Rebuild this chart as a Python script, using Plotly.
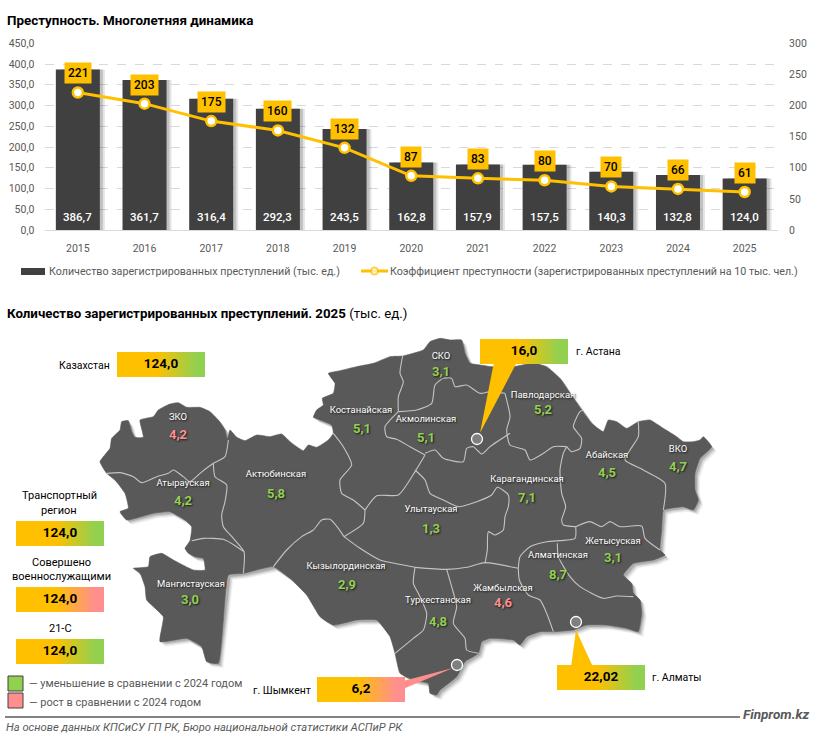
import plotly.graph_objects as go

# ---------- data ----------
years = ["2015","2016","2017","2018","2019","2020","2021","2022","2023","2024","2025"]
crimes = [386.7,361.7,316.4,292.3,243.5,162.8,157.9,157.5,140.3,132.8,124.0]
rate = [221,203,175,160,132,87,83,80,70,66,61]
series_names = ["Количество зарегистрированных преступлений (тыс. ед.)",
                "Коэффициент преступности (зарегистрированных преступлений на 10 тыс. чел.)"]
region_names = ["ЗКО","Атырауская","Актюбинская","Мангистауская","Костанайская","Акмолинская","СКО",
                "Павлодарская","Абайская","ВКО","Карагандинская","Улытауская","Кызылординская",
                "Туркестанская","Жамбылская","Алматинская","Жетысуская"]
region_values = ["4,2","4,2","5,8","3,0","5,1","5,1","3,1","5,2","4,5","4,7","7,1","1,3","2,9","4,8","4,6","8,7","3,1"]
region_up = [1,0,0,0,0,0,0,0,0,0,0,0,0,0,1,0,0]

FONT = "Roboto"
DARK = "#404040"; YEL = "#FFC000"; GRN = "#92D050"; PNK = "#FF8F8F"; GREY = "#595959"

# label anchors in page pixels
name_xy = [(178,418),(183,484),(276,475),(191,585),(361,411),(426,420),(441,357),(543,396),(607,456),
           (678,450),(527,480),(431,510),(346,567),(438,601),(503,589),(558,556),(613,542)]
val_xy = [(178,436),(183,502),(276,495),(190,601),(362,430),(426,439),(441,373),(543,411),(607,474),
          (678,468),(527,499),(431,530),(347,586),(438,623),(503,604),(558,576),(613,559)]

def z2(p): return [(90+x/3, 330+y/3) for x,y in p]
def z3(p): return [(400+x/3, 330+y/3) for x,y in p]

outline = z2([(30,395),(60,355),(65,325),(90,300),(95,275),(115,272),(125,305),(135,322),(160,322),(150,270),(190,260),(205,240),(240,222),(265,218),(290,232),(330,232),(360,245),(385,270),(405,300),(412,328),(420,300),(440,322),(465,332),(500,315),(540,320),(575,312),(600,335),(640,362),(655,345),(680,352),(715,330),(730,310),(725,285),(690,270),(670,262),(680,240),(700,225),(697,205),(730,190),(735,160),(715,130),(750,122),(800,110),(850,100),(900,80),(938,78),(1000,60),(1020,35),(1050,25)]) + \
  z3([(150,30),(185,30),(195,70),(210,100),(240,105),(275,110),(340,110),(400,100),(440,110),(480,145),(510,190),(545,240),(575,280),(610,305),(625,270),(650,275),(680,295),(715,275),(750,270),(790,295),(830,320),(850,335),(880,335),(900,330),(910,320),(935,350),(900,385),(885,430),(885,480),(895,510),(880,540),(850,530),(810,535),(790,540),(785,600),(780,660),(795,675),(760,690),(700,700),(670,735),(695,760),(700,790),(720,810),(725,850),(715,905),(680,895),(620,885),(560,885),(520,900),(460,905),(420,905),(380,920),(360,945),(340,930),(270,925),(245,935),(235,970),(195,995),(170,1040),(120,1080),(110,1095),(90,1090),(85,1060),(40,1050),(0,1030)]) + \
  z2([(915,970),(900,920),(860,870),(800,870),(730,885),(690,860),(650,795),(600,745),(550,710),(460,730),(415,735),(400,870),(385,1000),(350,995),(335,950),(290,925),(210,935),(220,860),(170,810),(165,770),(150,730),(130,715),(175,710),(180,680),(215,670),(250,690),(310,720),(345,720),(340,685),(315,680),(295,670),(285,655),(300,632),(305,590),(285,570),(240,545),(190,550),(110,570),(90,545),(115,535),(105,490),(75,450),(50,430),(30,395)])

borders = [
 z2([(50,430),(90,428),(130,440),(155,458),(200,440),(235,430),(250,420),(280,440),(300,455),(330,430),(370,400),(405,380),(415,330)]),
 z2([(370,400),(375,440),(410,465),(405,515),(395,555),(400,590),(430,625),(462,665),(460,730)]),
 z2([(305,632),(340,625),(400,628),(440,650),(462,665)]),
 z2([(550,710),(590,660),(635,620),(670,600),(695,570),(720,568),(745,595),(762,620)]),
 z2([(730,310),(760,350),(785,405),(750,450),(755,490),(790,510),(825,540)]),
 z2([(825,540),(820,580),(762,620)]),
 z2([(825,540),(860,497),(925,495),(975,425),(1005,375)]),
 z2([(1005,375),(960,350),(920,328),(890,320),(885,290),(925,245)]),
 z2([(938,78),(930,130),(940,155),(925,200),(925,245)]),
 z3([(-5,245),(50,240),(95,220),(105,165),(130,145),(155,145),(165,170),(200,165),(240,190),(270,185),(315,190)]),
 z3([(315,190),(330,260),(320,300),(330,345),(375,360),(390,390),(430,370),(460,350),(500,350)]),
 z3([(330,310),(270,350),(245,372),(220,350),(200,355),(190,395),(130,385),(105,360),(75,370)]),
 z3([(45,420),(75,450),(90,490),(130,510),(175,530),(230,515),(275,495),(292,472),(325,495),(325,530),(315,560),(310,600),(285,615),(265,605),(262,660),(255,700)]),
 z2([(762,620),(810,655),(870,690),(940,705),(975,712)]),
 z3([(45,712),(140,718),(200,712),(255,698),(355,715)]),
 z3([(45,712),(40,760),(55,790),(80,850),(70,900),(40,925),(-15,970)]),
 z3([(140,718),(155,770),(170,830),(160,880),(195,925),(200,960),(235,970)]),
 z3([(355,715),(360,680),(390,650),(440,635),(525,625),(527,590)]),
 z3([(527,590),(490,585),(485,570),(497,530),(485,490),(480,420),(490,370),(500,350)]),
 z3([(500,350),(515,365),(540,355),(545,325),(520,290),(540,245),(550,240)]),
 z3([(527,590),(570,575),(605,590),(630,575),(660,590),(725,588),(735,625),(780,660)]),
 z3([(715,275),(715,320),(690,360),(675,390),(730,420),(795,460),(790,540)]),
 z3([(472,640),(475,680),(510,740),(540,770),(610,805),(650,798),(700,800)]),
 z3([(355,715),(358,750),(385,795),(420,810),(440,850),(460,905)]),
]

W, H = 815, 741
fig = go.Figure()

# ---------- top chart ----------
for dx, col in [(0.075, "rgba(0,0,0,0.10)"), (0.045, "rgba(0,0,0,0.16)")]:
    fig.add_trace(go.Bar(x=years, y=crimes, width=0.66, offset=-0.33+dx, marker_color=col,
                         marker_line_width=0, showlegend=False, hoverinfo="skip"))
fig.add_trace(go.Bar(x=years, y=crimes, name=series_names[0], width=0.66, offset=-0.33,
                     marker_color=DARK, marker_line_width=0, showlegend=False))
fig.add_trace(go.Scatter(x=years, y=rate, name=series_names[1], yaxis="y2", mode="lines+markers",
                         line=dict(color=YEL, width=3), showlegend=False,
                         marker=dict(size=10, color="white", line=dict(color=YEL, width=2.5))))

annots = []
for i, (c, r) in enumerate(zip(crimes, rate)):
    annots.append(dict(x=i, y=0, xref="x", yref="y", yshift=13, showarrow=False,
                       text=f"{c:.1f}".replace(".", ","),
                       font=dict(family=FONT, size=11.5, color="white", weight=500)))
    annots.append(dict(x=i, y=r, xref="x", yref="y2", yshift=19, showarrow=False, text=str(r),
                       bgcolor=YEL, borderpad=3, font=dict(family=FONT, size=12, color="black", weight=500)))

# ---------- map ----------
def add_poly(pts, **kw):
    fig.add_trace(go.Scatter(x=[p[0] for p in pts], y=[p[1] for p in pts], xaxis="x3", yaxis="y3",
                             showlegend=False, hoverinfo="skip", **kw))

for d, a in [(5,0.05),(4,0.07),(3,0.10),(2,0.14)]:
    add_poly([(x+d,y+d) for x,y in outline], mode="lines", line=dict(width=0), fill="toself",
             fillcolor=f"rgba(0,0,0,{a})")
add_poly(outline, mode="lines", line=dict(width=0.6, color="#595959", shape="spline", smoothing=0.4),
         fill="toself", fillcolor="#595959")
for b in borders:
    add_poly(b, mode="lines", line=dict(width=1.1, color="#c4c4c4", shape="spline", smoothing=0.6))

# callout pointers
add_poly([(494,362),(517,362),(480,433)], mode="lines", line=dict(width=0), fill="toself", fillcolor=YEL)
add_poly([(571,667),(593,667),(576,630)], mode="lines", line=dict(width=0), fill="toself", fillcolor=YEL)
add_poly([(403,681),(403,689),(453,668)], mode="lines", line=dict(width=0), fill="toself", fillcolor=PNK)

# city dots
cities = [(477,439),(576,622),(457,665)]
fig.add_trace(go.Scatter(x=[c[0] for c in cities], y=[c[1] for c in cities], xaxis="x3", yaxis="y3",
                         mode="markers", showlegend=False, hoverinfo="skip",
                         marker=dict(size=11, color="#7f7f7f", line=dict(color="white", width=1.3))))

# region labels
SH = "1px 1px 2px rgba(0,0,0,0.75)"
fig.add_trace(go.Scatter(x=[p[0] for p in name_xy], y=[p[1] for p in name_xy], xaxis="x3", yaxis="y3",
                         mode="text", text=region_names, showlegend=False, hoverinfo="skip",
                         textfont=dict(family=FONT, size=9.5, color="white", shadow=SH)))
fig.add_trace(go.Scatter(x=[p[0] for p in val_xy], y=[p[1] for p in val_xy], xaxis="x3", yaxis="y3",
                         mode="text", text=region_values, showlegend=False, hoverinfo="skip",
                         textfont=dict(family=FONT, size=13, weight=700, shadow=SH,
                                       color=[PNK if u else GRN for u in region_up])))

# gradient value boxes
box_labels = ["124,0","16,0","22,02","6,2","124,0","124,0","124,0"]
box_up = [0,0,0,1,0,1,0]
box_rect = [(117,352),(480,339),(557,665),(317,677),(16,521),(16,587),(16,639)]
BW, BH = 88, 25
for (bx,by), u in zip(box_rect, box_up):
    end = PNK if u else GRN
    add_poly([(bx,by),(bx+BW,by),(bx+BW,by+BH),(bx,by+BH),(bx,by)], mode="lines", line=dict(width=0),
             fill="toself", fillcolor=YEL,
             fillgradient=dict(type="horizontal",
                               colorscale=[[0,YEL],[0.45,YEL],[0.9,end],[1,end]]))
fig.add_trace(go.Scatter(x=[b[0]+BW/2 for b in box_rect], y=[b[1]+BH/2 for b in box_rect], xaxis="x3", yaxis="y3",
                         mode="text", text=box_labels, showlegend=False, hoverinfo="skip",
                         textfont=dict(family=FONT, size=13.5, weight=700, color="black")))

# map legend squares
add_poly([(8,676),(23,676),(23,691),(8,691),(8,676)], mode="lines", line=dict(width=1, color=DARK), fill="toself", fillcolor=GRN)
add_poly([(8,693),(23,693),(23,708),(8,708),(8,693)], mode="lines", line=dict(width=1, color=DARK), fill="toself", fillcolor=PNK)

# chart legend keys
add_poly([(21,268),(45,268),(45,275),(21,275),(21,268)], mode="lines", line=dict(width=0), fill="toself", fillcolor=DARK)
add_poly([(361,271),(374.5,271),(388,271)], mode="lines+markers", line=dict(color=YEL, width=3),
         marker=dict(size=[0,7,0], color="white", line=dict(color=YEL, width=2)))

def txt(x, y, s, size=11, color="black", anchor="left", **fnt):
    dx = {"left":-2, "right":2, "center":0}[anchor]
    annots.append(dict(x=x, y=y, xref="x3", yref="y3", xshift=dx, text=s, showarrow=False, xanchor=anchor, yanchor="middle",
                       align=anchor, font=dict(family=FONT, size=size, color=color, **fnt)))

txt(49, 271, series_names[0], 10.7, color=GREY)
txt(390, 271, series_names[1], 10.7, color=GREY)
txt(7, 20, "Преступность. Многолетняя динамика", 13.4, weight=700)
txt(7, 313, "Количество зарегистрированных преступлений. 2025 <span style='font-weight:400'>(тыс. ед.)</span>", 13.3, weight=700)
txt(110, 365, "Казахстан", 10.5, anchor="right")
txt(59, 495, "Транспортный", 11, anchor="center"); txt(59, 510, "регион", 11, anchor="center")
txt(61, 562, "Совершено", 11, anchor="center"); txt(61, 576, "военнослужащими", 11, anchor="center")
txt(60, 628, "21-С", 11, anchor="center")
txt(576, 351, "г. Астана", 10.5); txt(652, 677, "г. Алматы", 10.5); txt(311, 690, "г. Шымкент", 10.5, anchor="right")
txt(29, 683, "— уменьшение в сравнении с 2024 годом", 11, color=GREY)
txt(29, 702, "— рост в сравнении с 2024 годом", 11, color=GREY)
txt(6, 727, "На основе данных КПСиСУ ГП РК, Бюро национальной статистики АСПиР РК", 11.2, color=GREY, style="italic")
txt(743, 714, "Finprom.kz", 13.5, color=GREY, weight=700, style="italic")

X0, X1, Y0, Y1 = 44.5, 778, 43.3, 230
TR = "rgba(0,0,0,0)"
fig.update_layout(
    width=W, height=H, margin=dict(l=0, r=0, t=0, b=0, autoexpand=False), autosize=False,
    paper_bgcolor="white", plot_bgcolor=TR, barmode="overlay", separators=", ",
    font=dict(family=FONT, size=11, color=GREY), showlegend=False,
    hovermode=False,
    xaxis=dict(domain=[X0/W, X1/W], anchor="y", type="category", range=[-0.5,10.5], showgrid=False,
               ticks="outside", ticklen=8, tickcolor=TR, showline=True,
               linecolor="#d9d9d9", tickfont=dict(size=10.5, color=GREY), fixedrange=True),
    yaxis=dict(domain=[1-Y1/H, 1-Y0/H], range=[0,450], dtick=50, tickformat=".1f", showgrid=True,
               gridcolor="#d9d9d9", griddash="dash", zeroline=False, ticks="outside", ticklen=7, tickcolor=TR,
               anchor="x", fixedrange=True, tickfont=dict(size=10.5, color=GREY)),
    yaxis2=dict(domain=[1-Y1/H, 1-Y0/H], range=[0,300], dtick=50, overlaying="y", side="right", showgrid=False,
                zeroline=False, ticks="outside", ticklen=8, tickcolor=TR, anchor="x", fixedrange=True,
                tickfont=dict(size=10.5, color=GREY)),
    xaxis3=dict(domain=[0,1], range=[0,W], visible=False, anchor="y3", fixedrange=True),
    yaxis3=dict(domain=[0,1], range=[H,0], visible=False, anchor="x3", fixedrange=True),
    annotations=annots,
    shapes=[dict(type="line", xref="x3", yref="y3", x0=5, x1=740, y0=717, y1=717, line=dict(color=GREY, width=1.5))],
)
fig.write_html("out.html", post_script="document.body.style.margin='0';document.documentElement.style.overflow='hidden';",
               config=dict(displayModeBar=False))
